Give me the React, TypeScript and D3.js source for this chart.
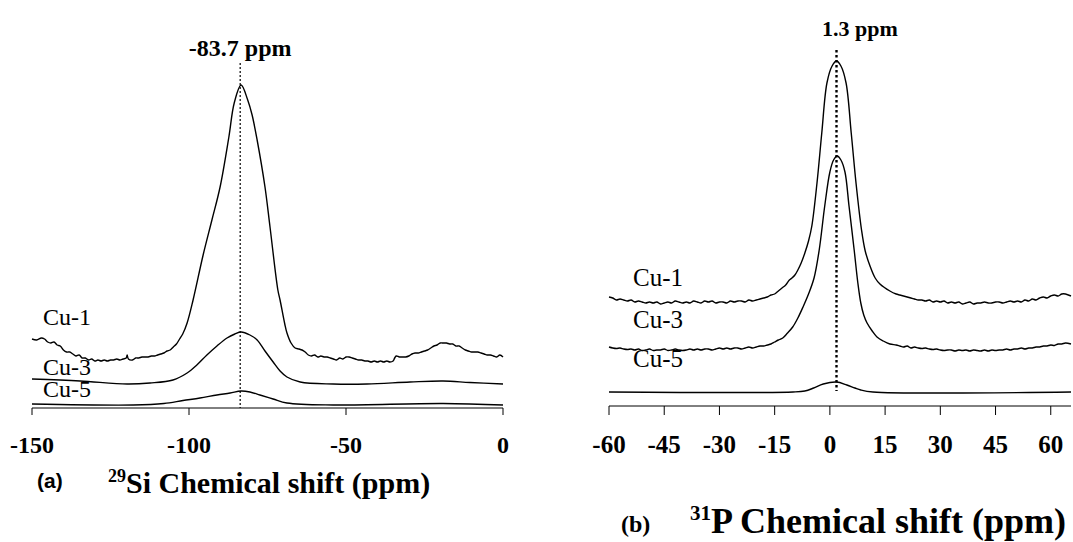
import * as d3 from 'd3'

// ---- Panel (a): 29Si spectra, [ppm, intensity a.u.] ----
const SI_CU1: [number, number][] = [
  [-150, 69], [-148.5, 68], [-147, 70], [-146, 69], [-145, 66], [-144, 65], [-143, 66],
  [-142, 63], [-141, 62], [-140, 58], [-139, 56], [-138, 56], [-137, 54], [-136, 52],
  [-135, 53], [-134, 50], [-133, 50], [-132, 48], [-131, 49], [-130, 47], [-129, 48],
  [-128, 47], [-127, 48], [-126, 47], [-125, 48], [-124, 48], [-123, 49], [-122, 48],
  [-121, 49], [-120, 50], [-119.7, 53], [-119.3, 49], [-118, 48], [-117, 50], [-116, 50],
  [-115, 51], [-114, 51], [-113, 51], [-112, 52], [-111, 52], [-110, 53], [-109, 54],
  [-108, 55], [-107, 57], [-106, 58], [-105, 61], [-104, 64], [-103, 69], [-102, 74],
  [-100.6, 85], [-98.7, 108], [-95.5, 153], [-92.7, 188], [-90.1, 221], [-87.3, 271],
  [-85.6, 305], [-83.4, 323], [-81.3, 308], [-79.9, 293], [-78.3, 268], [-75.8, 221],
  [-74.2, 181], [-71.7, 118], [-71, 108], [-69.5, 84], [-68.8, 75], [-67.5, 65], [-66.2, 60],
  [-65, 59], [-64, 58], [-63, 56], [-62, 53], [-61, 52], [-60, 53], [-59, 51],
  [-58, 52], [-57, 51], [-56, 51], [-55, 50], [-54, 49], [-53, 48], [-52, 50],
  [-51, 49], [-50, 51], [-49, 51], [-48, 50], [-47, 49], [-46, 48], [-45, 48],
  [-44, 47], [-43, 47], [-42, 46], [-41, 47], [-40, 46], [-39, 47], [-38, 46],
  [-37, 47], [-36, 46], [-35, 47], [-34.5, 50], [-34, 52], [-33, 51], [-32, 51],
  [-31, 51], [-30, 52], [-29, 54], [-28, 55], [-27, 55], [-26, 56], [-25, 57],
  [-24, 58], [-23, 60], [-22, 62], [-21, 63], [-20, 65], [-19, 65], [-18, 65],
  [-17, 64], [-16, 64], [-15, 62], [-14, 62], [-13, 60], [-12, 58], [-11, 57],
  [-10, 56], [-9, 56], [-8, 56], [-7, 55], [-6, 54], [-5, 53], [-4, 53], [-3, 52],
  [-2, 51], [-1, 53], [0, 51],
]
const SI_CU3: [number, number][] = [
  [-150, 29], [-134.7, 27], [-119.7, 24], [-112.4, 25], [-105.1, 28], [-100.6, 35],
  [-97.5, 43], [-94.3, 53], [-91.1, 62], [-87.9, 70], [-85.4, 74], [-83.4, 76],
  [-80.6, 73], [-78.3, 68], [-75.8, 57], [-73.2, 46], [-71, 37], [-68.8, 31],
  [-64.6, 26], [-54.1, 24], [-43.3, 24], [-29.6, 26], [-19.1, 27], [-10.5, 25.5], [0, 24],
]
const SI_CU5: [number, number][] = [
  [-150, 4], [-117.8, 3], [-108, 4.5], [-101.9, 7.5], [-96.5, 10], [-91.1, 13],
  [-86.9, 15], [-83.4, 17], [-80.6, 16], [-77.4, 13], [-73.2, 9], [-68.8, 5],
  [-54.1, 3], [-19.1, 4.5], [0, 3],
]
const SI_TICKS = [-150, -100, -50, 0]
const SI_PEAK = -83.7

// ---- Panel (b): 31P spectra ----
const P_CU1: [number, number][] = [
  [-60, 109], [-59, 108], [-58, 106], [-57, 107], [-56, 106], [-55, 105], [-54, 106],
  [-53, 104], [-52, 105], [-51, 104], [-50, 103], [-49, 104], [-48, 103], [-47, 104],
  [-46, 102], [-45, 103], [-44, 104], [-43, 103], [-42, 105], [-41, 104], [-40, 103],
  [-39, 104], [-38, 103], [-37, 105], [-36, 104], [-35, 103], [-34, 105], [-33, 104],
  [-32, 105], [-31, 103], [-30, 104], [-29, 104], [-28, 103], [-27, 105], [-26, 104],
  [-25, 105], [-24, 105], [-23, 104], [-22, 106], [-21, 105], [-20, 106], [-19, 107],
  [-18, 108], [-17, 109], [-16, 111], [-15, 112], [-14, 115], [-13, 118], [-12, 121],
  [-11, 126], [-10.3, 128], [-9.5, 131], [-8.7, 136], [-7.8, 143], [-6.8, 153],
  [-5.8, 165], [-4.9, 180], [-3.5, 223], [-2.2, 273], [-0.8, 323], [0.6, 340],
  [1.8, 345], [3.0, 340], [4.4, 323], [5.8, 273], [7.1, 223], [8.6, 176], [9.6, 155],
  [10.9, 140], [12.3, 128], [13.6, 122], [16.3, 115],
  [18, 112], [19, 111], [20, 110], [21, 109], [22, 108], [23, 107], [24, 106], [25, 106],
  [26, 105], [27, 106], [28, 104], [29, 105], [30, 104], [31, 105], [32, 103], [33, 104],
  [34, 103], [35, 104], [36, 102], [37, 103], [38, 104], [39, 102], [40, 103], [41, 103],
  [42, 104], [43, 103], [44, 103], [45, 104], [46, 104], [47, 103], [48, 104], [49, 105],
  [50, 104], [51, 105], [52, 104], [53, 106], [54, 105], [55, 107], [56, 106], [57, 108],
  [58, 109], [59, 108], [60, 110], [61, 111], [62, 110], [63, 112], [64, 112], [65.5, 110],
]
const P_CU3: [number, number][] = [
  [-60, 59], [-59, 58], [-58, 57.5], [-57, 58], [-56, 57], [-55, 56.5], [-54, 57], [-53, 56],
  [-52, 57], [-51, 55.5], [-50, 56], [-49, 57], [-48, 55.5], [-47, 56], [-46, 56], [-45, 57],
  [-44, 55.5], [-43, 56], [-42, 57], [-41, 56], [-40, 55.5], [-39, 56], [-38, 57], [-37, 56],
  [-36, 57], [-35, 56], [-34, 57], [-33, 57], [-32, 56], [-31, 57], [-30, 58], [-29, 57],
  [-28, 58], [-27, 57], [-26, 58], [-25, 58], [-24, 57], [-23, 58], [-22, 59], [-21, 58],
  [-20, 59], [-19, 60], [-18, 60], [-17, 61], [-16, 62], [-15, 64], [-14, 66],
  [-12.8, 68], [-11.5, 73], [-10.1, 79], [-8.7, 88], [-7.3, 99], [-5.8, 112],
  [-4.3, 128], [-2.9, 156], [-1.4, 200], [0, 234], [1.0, 246], [2.0, 250], [3.0, 246],
  [4.1, 234], [5.2, 200], [6.6, 156], [7.6, 123], [8.4, 103], [9.2, 91], [10.1, 83],
  [11.5, 75], [12.8, 69], [14.5, 65], [16.3, 62], [18, 61], [19, 60], [20, 59], [21, 60],
  [22, 58], [23, 59], [24, 58], [25, 57.5], [26, 58], [27, 57], [28, 56.5], [29, 57],
  [30, 56], [31, 55.5], [32, 56], [33, 56], [34, 55], [35, 56], [36, 55.5], [37, 56],
  [38, 55], [39, 56], [40, 55.5], [41, 55], [42, 56], [43, 55], [44, 56], [45, 55.5],
  [46, 56], [47, 56], [48, 57], [49, 56], [50, 57], [51, 57], [52, 58], [53, 57],
  [54, 58], [55, 58], [56, 59], [57, 59], [58, 60], [59, 60], [60, 61], [61, 60.5],
  [62, 62], [63, 62], [64, 63], [65.5, 62],
]
const P_CU5: [number, number][] = [
  [-60, 14], [-10, 14], [-6.8, 15], [-4.4, 18], [-1.8, 22], [1.8, 24],
  [4.6, 21], [6.8, 18], [8.4, 16], [11.7, 14], [65.5, 14],
]
const P_TICKS = [-60, -45, -30, -15, 0, 15, 30, 45, 60]
const P_PEAK = 1.3
// dashed marker as drawn in the figure (sits on the peak maximum)
const P_MARK = 1.8

const SERIES_NAMES = ['Cu-1', 'Cu-3', 'Cu-5']

const SERIF = '"Liberation Serif", "Times New Roman", serif'

export default function App() {
  // panel a scales
  const xa = d3.scaleLinear().domain([-150, 0]).range([32, 503])
  const ya = d3.scaleLinear().domain([0, 323]).range([408, 85])
  // panel b scales
  const xb = d3.scaleLinear().domain([-60, 65.5]).range([609, 1071])
  const yb = d3.scaleLinear().domain([0, 345]).range([406, 61])

  const curve = d3.curveCatmullRom.alpha(0.5)
  const lineA = d3.line<[number, number]>().x((d) => xa(d[0])).y((d) => ya(d[1])).curve(curve)
  const lineB = d3.line<[number, number]>().x((d) => xb(d[0])).y((d) => yb(d[1])).curve(curve)

  const siLabelY = [325, 375, 397]
  const pLabelY = [286, 328, 367]

  return (
    <div style={{ position: 'fixed', left: 0, top: 0 }}>
      <svg width={1073} height={542} style={{ display: 'block', background: '#fff' }}>
        {/* ----- panel (a) ----- */}
        <g fill="none" stroke="#000" strokeWidth={1.4} strokeLinejoin="round">
          {[SI_CU1, SI_CU3, SI_CU5].map((s, i) => (
            <path key={i} d={lineA(s) ?? ''} />
          ))}
        </g>
        <line x1={xa(SI_PEAK)} x2={xa(SI_PEAK)} y1={63} y2={408} stroke="#000" strokeWidth={1.2} strokeDasharray="2,2" />
        <text x={xa(SI_PEAK)} y={56} textAnchor="middle" fontFamily={SERIF} fontWeight="bold" fontSize={24}>-83.7 ppm</text>
        {SERIES_NAMES.map((n, i) => (
          <text key={n} x={43} y={siLabelY[i]} fontFamily={SERIF} fontSize={24}>{n}</text>
        ))}
        <line x1={xa(-150)} x2={xa(0)} y1={408} y2={408} stroke="#000" strokeWidth={1} />
        {SI_TICKS.map((t) => (
          <g key={t}>
            <line x1={xa(t)} x2={xa(t)} y1={408} y2={415} stroke="#000" strokeWidth={1} />
            <text x={xa(t)} y={453} textAnchor="middle" fontFamily={SERIF} fontWeight="bold" fontSize={24}>{t}</text>
          </g>
        ))}
        <text x={37} y={488} fontFamily='"Liberation Sans", Arial, sans-serif' fontWeight="bold" fontSize={21}>(a)</text>
        <text x={108} y={493} fontFamily={SERIF} fontWeight="bold" fontSize={30}>
          <tspan fontSize={18} dy={-11}>29</tspan>
          <tspan dy={11}>Si Chemical shift (ppm)</tspan>
        </text>

        {/* ----- panel (b) ----- */}
        <g fill="none" stroke="#000" strokeWidth={1.4} strokeLinejoin="round">
          {[P_CU1, P_CU3, P_CU5].map((s, i) => (
            <path key={i} d={lineB(s) ?? ''} />
          ))}
        </g>
        <line x1={xb(P_MARK)} x2={xb(P_MARK)} y1={50} y2={391} stroke="#000" strokeWidth={2.4} strokeDasharray="2.5,2.5" />
        <text x={822} y={36} fontFamily={SERIF} fontWeight="bold" fontSize={22}>{`${P_PEAK} ppm`}</text>
        {SERIES_NAMES.map((n, i) => (
          <text key={n} x={633} y={pLabelY[i]} fontFamily={SERIF} fontSize={25}>{n}</text>
        ))}
        <line x1={xb(-60)} x2={xb(65.5)} y1={406} y2={406} stroke="#000" strokeWidth={1} />
        {P_TICKS.map((t) => (
          <g key={t}>
            <line x1={xb(t)} x2={xb(t)} y1={406} y2={415} stroke="#000" strokeWidth={1} />
            <text x={xb(t)} y={453} textAnchor="middle" fontFamily={SERIF} fontWeight="bold" fontSize={25}>{t}</text>
          </g>
        ))}
        <text x={621} y={532} fontFamily={SERIF} fontWeight="bold" fontSize={24}>(b)</text>
        <text x={690} y={533} fontFamily={SERIF} fontWeight="bold" fontSize={36}>
          <tspan fontSize={21} dy={-13}>31</tspan>
          <tspan dy={13}>P Chemical shift (ppm)</tspan>
        </text>
      </svg>
    </div>
  )
}
